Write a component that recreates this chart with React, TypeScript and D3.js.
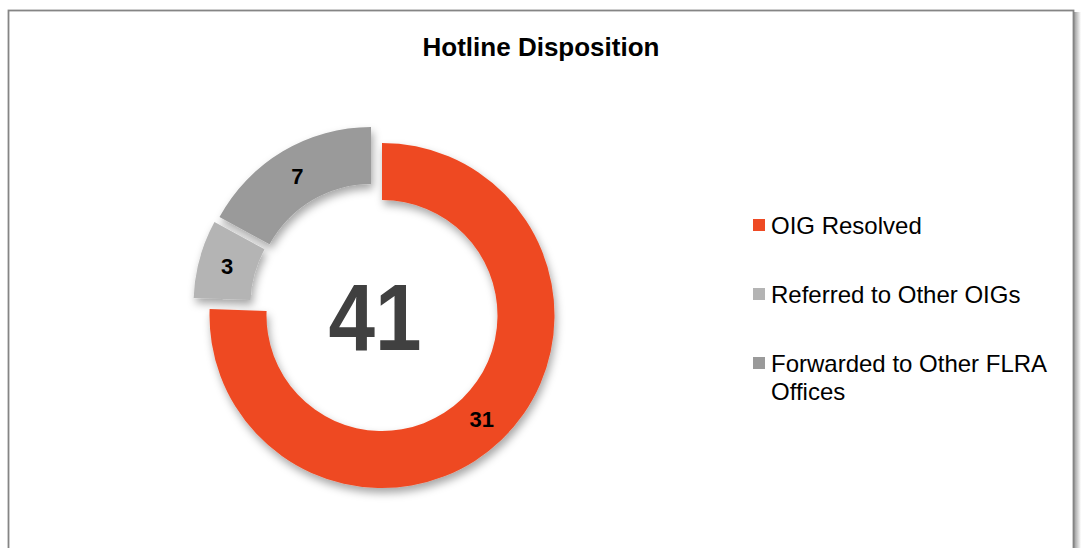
import React from "react";
import * as d3 from "d3";

const title = "Hotline Disposition";
const categories = ["OIG Resolved", "Referred to Other OIGs", "Forwarded to Other FLRA Offices"];
const legendLines = [["OIG Resolved"], ["Referred to Other OIGs"], ["Forwarded to Other FLRA", "Offices"]];
const values = [31, 3, 7];
const colors = ["#EE4A24", "#B4B4B4", "#9A9A9A"];
// explosion offsets of each slice (px)
const explodeX = [0, -16, -11];
const explodeY = [0, -11, -16];
const totalLabel = String(d3.sum(values));

export default function App() {
  const W = 1081, H = 548;
  const cx = 382, cy = 315.5;
  const outerR = 172.5, innerR = 115.5;
  const pie = d3.pie<number>().sort(null).startAngle(0).endAngle(2 * Math.PI);
  const arcs = pie(values);
  const arc = d3.arc<d3.PieArcDatum<number>>().innerRadius(innerR).outerRadius(outerR);
  const labelArc = d3.arc<d3.PieArcDatum<number>>().innerRadius((innerR + outerR) / 2).outerRadius((innerR + outerR) / 2);

  const legendX = 753;
  const legendY = [225, 294, 363];

  return (
    <svg width={W} height={H} style={{ position: "absolute", left: 0, top: 0, display: "block" }}
      fontFamily="'Liberation Sans', Arial, sans-serif">
      <defs>
        <filter id="shadow" x="-20%" y="-20%" width="140%" height="140%">
          <feDropShadow dx="2" dy="5" stdDeviation="4" floodColor="#000" floodOpacity="0.35" />
        </filter>
        <linearGradient id="rshadow" x1="0" x2="1" y1="0" y2="0">
          <stop offset="0" stopColor="#9a9a9a" />
          <stop offset="1" stopColor="#ffffff" />
        </linearGradient>
      </defs>
      <rect x={0} y={0} width={W} height={H} fill="#fff" />
      <rect x={1074} y={12} width={7} height={H} fill="url(#rshadow)" />
      <rect x={8.5} y={10.5} width={1065} height={H + 20} fill="#fff" stroke="#858585" strokeWidth={1.8} />
      <text x={541} y={56} textAnchor="middle" fontSize={26} fontWeight="bold" fill="#000">{title}</text>

      <g filter="url(#shadow)">
        {arcs.map((a, i) => (
          <path key={i} d={arc(a) || ""} fill={colors[i]}
            transform={`translate(${cx + explodeX[i]},${cy + explodeY[i]})`} />
        ))}
      </g>
      {arcs.map((a, i) => {
        const [lx, ly] = labelArc.centroid(a);
        return (
          <text key={i} x={cx + explodeX[i] + lx} y={cy + explodeY[i] + ly} dy="0.36em" textAnchor="middle"
            fontSize={22} fontWeight="bold" fill="#000">{values[i]}</text>
        );
      })}
      <text transform="translate(375,350) scale(0.88,1)" textAnchor="middle" fontSize={95} fontWeight="bold" fill="#404040">{totalLabel}</text>

      {categories.map((c, i) => (
        <g key={c}>
          <rect x={legendX} y={legendY[i] - 6} width={12} height={12} fill={colors[i]} />
          {legendLines[i].map((line, j) => (
            <text key={j} x={771} y={legendY[i] + 8.5 + j * 28} fontSize={24} fill="#000">{line}</text>
          ))}
        </g>
      ))}
    </svg>
  );
}
